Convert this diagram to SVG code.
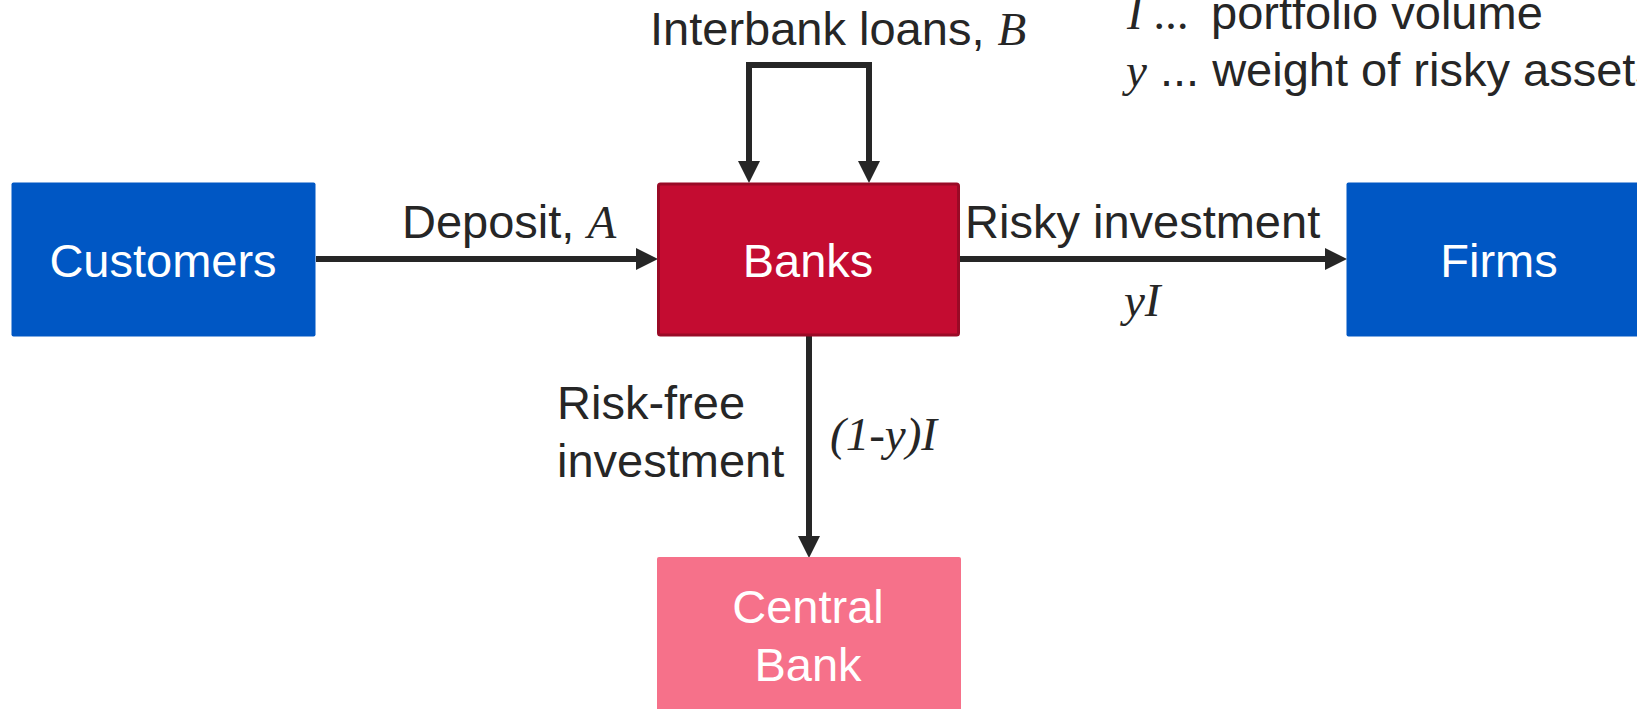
<svg xmlns="http://www.w3.org/2000/svg" width="1637" height="709" viewBox="0 0 1637 709">
<style>
.lbl{font-family:"Liberation Sans",Arial,sans-serif;font-size:47px;fill:#262626}
.math{font-family:"Liberation Serif","Times New Roman",serif;font-style:italic;font-size:47px;fill:#262626}
.ntxt{font-family:"Liberation Sans",Arial,sans-serif;font-size:47px;fill:#ffffff;text-anchor:middle}
.conn{fill:none;stroke:#262626;stroke-width:6;stroke-linejoin:miter}
.blue{fill:#0057C4}
</style>
<defs>
<marker id="ah" markerUnits="userSpaceOnUse" markerWidth="22" markerHeight="22" viewBox="0 -11 22 22" refX="0" refY="0" orient="auto-start-reverse" overflow="visible">
<path d="M0,-11 L22,0 L0,11 Z" fill="#262626"/>
</marker>
</defs>
<rect width="1637" height="709" fill="#ffffff"/>
<g id="connectors">
<line class="conn" x1="316" y1="259" x2="636" y2="259" marker-end="url(#ah)"/>
<line class="conn" x1="960" y1="259" x2="1325" y2="259" marker-end="url(#ah)"/>
<line class="conn" x1="809" y1="336" x2="809" y2="536" marker-end="url(#ah)"/>
<path class="conn" d="M749,161 L749,65 L869,65 L869,161" marker-start="url(#ah)" marker-end="url(#ah)"/>
</g>
<g id="customers">
<rect class="blue" x="11.5" y="182.5" width="304" height="154" rx="2"/>
<text class="ntxt" x="163" y="277">Customers</text>
</g>
<g id="banks">
<rect x="658.5" y="184" width="300" height="151" rx="2" fill="#C40C31" stroke="#9A0A26" stroke-width="3"/>
<text class="ntxt" x="808" y="277">Banks</text>
</g>
<g id="firms">
<rect class="blue" x="1346.5" y="182.5" width="304" height="154" rx="2"/>
<text class="ntxt" x="1499" y="277">Firms</text>
</g>
<g id="central-bank">
<rect x="657" y="557" width="304" height="160" rx="2" fill="#F6718A"/>
<text class="ntxt" x="808" y="623">Central</text>
<text class="ntxt" x="808" y="681">Bank</text>
</g>
<g id="labels">
<text x="650" y="45"><tspan class="lbl">Interbank loans, </tspan><tspan class="math">B</tspan></text>
<text x="402" y="238"><tspan class="lbl">Deposit, </tspan><tspan class="math">A</tspan></text>
<text class="lbl" x="965" y="238">Risky investment</text>
<text class="math" x="1124" y="316">yI</text>
<text class="lbl" x="557" y="419">Risk-free</text>
<text class="lbl" x="557" y="477">investment</text>
<text class="math" x="830" y="450">(1-y)I</text>
<text x="1127" y="29"><tspan class="math">I ...</tspan><tspan class="lbl" x="1211">portfolio volume</tspan></text>
<text x="1126" y="86"><tspan class="math">y</tspan><tspan class="lbl"> ... weight of risky assets</tspan></text>
</g>
</svg>
